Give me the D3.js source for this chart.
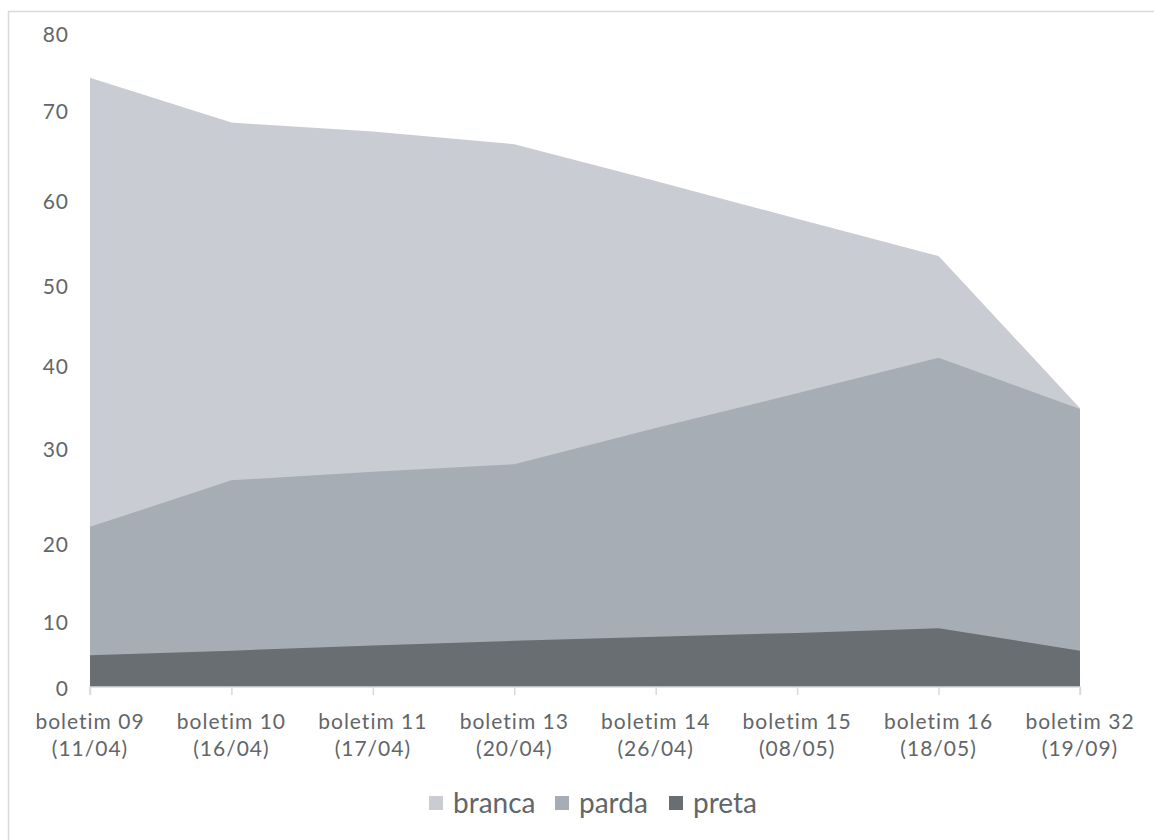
<!DOCTYPE html>
<html>
<head>
<meta charset="utf-8">
<script src="https://cdn.jsdelivr.net/npm/d3@7"></script>
<style>
  html, body { margin: 0; padding: 0; background: #fff; }
  svg { display: block; font-family: Lato, "Open Sans", sans-serif; }
</style>
</head>
<body>
<svg id="chart" width="1154" height="840"></svg>
<script>
// Bulletins (two-line category labels)
const categories = ["boletim 09", "boletim 10", "boletim 11", "boletim 13", "boletim 14", "boletim 15", "boletim 16", "boletim 32"];
const dates = ["(11/04)", "(16/04)", "(17/04)", "(20/04)", "(26/04)", "(08/05)", "(18/05)", "(19/09)"];

// Share per group, one value per bulletin
const branca = [74.2, 68.6, 67.6, 66.2, 62.1, 57.8, 53.4, 34.8];
const parda  = [21.7, 26.6, 27.5, 28.3, 32.4, 36.6, 40.9, 34.7];
const preta  = [4.8, 5.5, 6.3, 7.0, 7.6, 8.2, 8.9, 5.5];

const seriesNames = ["branca", "parda", "preta"];
const yTicks = [0, 10, 20, 30, 40, 50, 60, 70, 80];

const colors = { branca: "#c9ccd3", parda: "#a7adb5", preta: "#686e71" };
const textColor = "#626669";

const svg = d3.select("#chart");

// outer chart frame
svg.append("rect")
  .attr("x", 8.5).attr("y", 11.5)
  .attr("width", 1170).attr("height", 850)
  .attr("fill", "none").attr("stroke", "#d9d9d9").attr("stroke-width", 1.5);

const x = d3.scalePoint().domain(categories).range([90, 1080]);
// value axis, tick by tick
const y = d3.scaleLinear()
  .domain(yTicks)
  .range([687, 621, 543, 448, 365, 285, 200, 110, 33]);

const series = { branca, parda, preta };

const area = d3.area()
  .x((d, i) => x(categories[i]))
  .y0(y(0))
  .y1(d => y(d));

// back to front: branca, parda, preta
seriesNames.forEach(name => {
  svg.append("path")
    .datum(series[name])
    .attr("d", area)
    .attr("fill", colors[name]);
});

// category axis
const xAxis = svg.append("g")
  .attr("transform", `translate(0,${y(0)})`)
  .call(d3.axisBottom(x).tickSize(8).tickFormat(""));
xAxis.select(".domain").attr("stroke", "#d9d9d9").attr("stroke-width", 1.5)
  .attr("d", `M${x(categories[0])},8V0H${x(categories[categories.length - 1])}V8`);
xAxis.selectAll(".tick line").attr("stroke", "#d9d9d9").attr("stroke-width", 1.5);

const labels = svg.append("g");
categories.forEach((c, i) => {
  const t = labels.append("text")
    .attr("x", x(c))
    .attr("text-anchor", "middle")
    .attr("fill", textColor)
    .style("font-size", "21px")
    .style("letter-spacing", "1px");
  t.append("tspan").attr("x", x(c)).attr("y", 729).text(c);
  t.append("tspan").attr("x", x(c)).attr("y", 756).text(dates[i]);
});

// value axis labels
const yAxis = svg.append("g")
  .attr("transform", "translate(69,0)")
  .call(d3.axisLeft(y).tickValues(yTicks).tickSize(0).tickPadding(0).tickFormat(d3.format("d")));
yAxis.select(".domain").remove();
yAxis.selectAll("text")
  .attr("fill", textColor)
  .attr("dy", "0.4em")
  .style("font-size", "21px")
  .style("font-family", "Lato, 'Open Sans', sans-serif")
  .style("letter-spacing", "1px");

// legend
const legendX = [429, 555, 669];
const legend = svg.append("g");
seriesNames.forEach((name, i) => {
  legend.append("rect")
    .attr("x", legendX[i]).attr("y", 796)
    .attr("width", 14).attr("height", 14)
    .attr("fill", colors[name]);
  legend.append("text")
    .attr("x", legendX[i] + 24).attr("y", 813)
    .attr("fill", textColor)
    .style("font-size", "28px")
    .text(name);
});
</script>
</body>
</html>
